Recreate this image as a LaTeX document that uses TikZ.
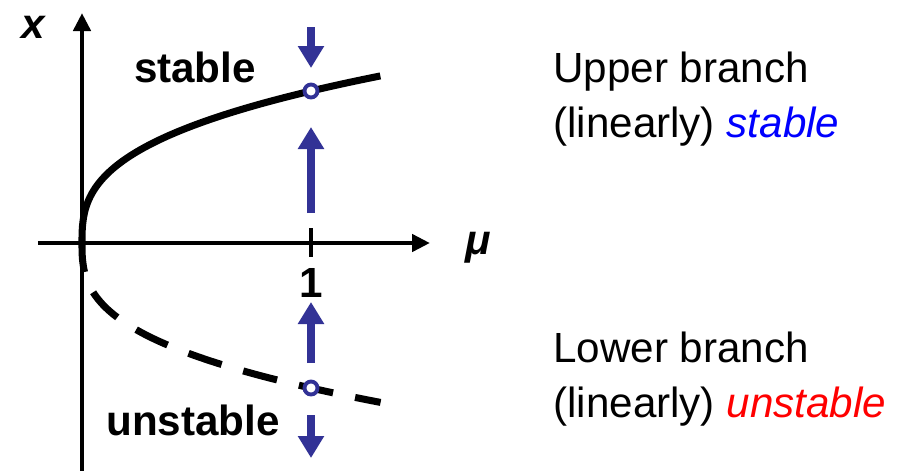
\documentclass[tikz,border=0pt]{standalone}
\usepackage{fontspec}
\setmainfont{Liberation Sans}
\usepackage{tikz}
\usetikzlibrary{arrows.meta,positioning,calc}
\definecolor{pfeilblau}{RGB}{50,50,150}
\tikzset{
  tengely/.style={line width=2.6pt,-{Triangle[length=0.36cm,width=0.34cm]}},
  ag/.style={line width=4pt,line cap=butt},
  szaggatott/.style={line width=4pt,dash pattern=on 0.7cm off 0.45cm},
  kek/.style={line width=4pt,pfeilblau,-{Triangle[length=0.44cm,width=0.5cm]}},
  fixpont/.style={circle,draw=pfeilblau,fill=white,line width=2.2pt,inner sep=0pt,minimum size=0.26cm},
  felirat/.style={font=\fontsize{24}{28}\selectfont\bfseries,inner sep=0pt},
  szoveg/.style={font=\fontsize{24}{28}\selectfont,inner sep=0pt,anchor=base west},
}
\begin{document}
\begin{tikzpicture}
  \useasboundingbox (-1.64,-4.54) rectangle (16.48,4.86);
  % tengelyek
  \coordinate (o) at (0,0);
  \draw[tengely] (0,-4.6) -- (0,4.6);
  \draw[tengely] (-0.88,0) -- (6.96,0);
  \draw[line width=2.6pt] (4.58,0.3) -- (4.58,-0.28);
  \node[felirat] (egy) at (4.58,-0.8) {1};
  \node[felirat,font=\fontsize{24}{28}\selectfont\bfseries\itshape] (mu) at (7.92,-0.1) {μ};
  \node[felirat,font=\fontsize{24}{28}\selectfont\bfseries\itshape] (xlab) at (-0.98,4.32) {x};
  % agak
  \draw[ag] (o) -- plot[domain=0.01:1.1,samples=90,smooth,variable=\t] ({4.58*\t^2.8},{3.04*\t});
  \draw[ag] (o) -- plot[domain=0.01:0.2,samples=20,smooth,variable=\t] ({4.58*\t^2.8},{-2.9*\t});
  \draw[szaggatott] plot[domain=0.34:1.1,samples=80,smooth,variable=\t] ({4.58*\t^2.8},{-2.9*\t});
  % fixpontok
  \node[fixpont] (fs) at (4.58,3.04) {};
  \node[fixpont] (fu) at (4.58,-2.9) {};
  % nyilak
  \coordinate (n1) at (4.58,4.32);
  \coordinate (n2) at (4.58,3.5);
  \coordinate (n3) at (4.58,0.6);
  \coordinate (n4) at (4.58,2.32);
  \coordinate (n5) at (4.58,-2.4);
  \coordinate (n6) at (4.58,-1.18);
  \coordinate (n7) at (4.58,-3.44);
  \coordinate (n8) at (4.58,-4.3);
  \draw[kek] (n1) -- (n2);
  \draw[kek] (n3) -- (n4);
  \draw[kek] (n5) -- (n6);
  \draw[kek] (n7) -- (n8);
  \node[felirat] (st) at (2.26,3.52) {stable};
  \node[felirat] (ust) at (2.22,-3.54) {unstable};
  % magyarazat
  \node[szoveg] (f1) at (9.42,3.22) {Upper branch};
  \node[szoveg] (f2) at ([yshift=-1.1cm]f1.base west) {(linearly) \textcolor{blue}{\itshape stable}};
  \node[szoveg] (a1) at (9.42,-2.38) {Lower branch};
  \node[szoveg] (a2) at ([yshift=-1.1cm]a1.base west) {(linearly) \textcolor{red}{\itshape unstable}};
\end{tikzpicture}
\end{document}
